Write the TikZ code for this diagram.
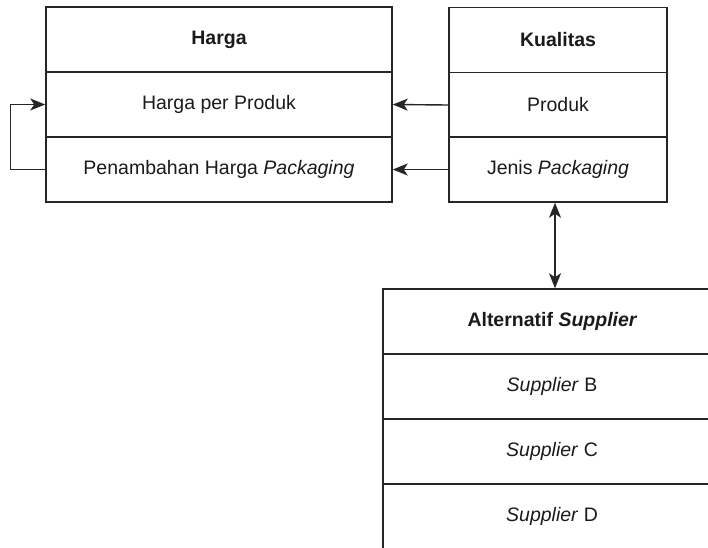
\documentclass[tikz,border=0pt]{standalone}
\usepackage{fontspec}
\setmainfont{Liberation Sans}
\usetikzlibrary{arrows.meta}
\definecolor{linec}{HTML}{262626}
\definecolor{textc}{HTML}{1A1A1A}
\begin{document}
\begin{tikzpicture}[x=1pt,y=-1pt,
  cell/.style={rectangle, draw=linec, line width=1.5pt, inner sep=0pt,
    minimum height=65pt, text=textc, font=\fontsize{19.5}{23}\selectfont},
  hcell/.style={cell, minimum width=346pt},
  kcell/.style={cell, minimum width=218pt},
  acell/.style={cell, minimum width=338pt},
  tip/.style={Stealth[length=15pt,width=12pt,inset=4pt]},
  arr/.style={draw=linec, line width=1.4pt, -{Stealth[length=15pt,width=12pt,inset=4pt]}},
  darr/.style={draw=linec, line width=1.4pt, {Stealth[length=15pt,width=12pt,inset=4pt]}-{Stealth[length=15pt,width=12pt,inset=4pt]}}]
\useasboundingbox (0,0) rectangle (708,547);
\clip (0,0) rectangle (708,547);
% Harga
\node[hcell] (hhead) at (219,39.5) {\bfseries Harga};
\node[hcell] (hprod) at (219,104.5) {Harga per Produk};
\node[hcell] (hpack) at (219,169.5) {Penambahan Harga \itshape Packaging};
% Kualitas
\node[kcell] (khead) at (558,40) {\bfseries Kualitas};
\node[kcell] (kprod) at (558,105) {Produk};
\node[kcell] (kpack) at (558,169.5) {Jenis \itshape Packaging};
% Alternatif Supplier
\node[acell] (ahead) at (552,321.5) {\bfseries Alternatif \itshape Supplier};
\node[acell] (asb) at (552,386.5) {\itshape Supplier\/\upshape\ B};
\node[acell] (asc) at (552,451.5) {\itshape Supplier\/\upshape\ C};
\node[acell] (asd) at (552,516.5) {\itshape Supplier\/\upshape\ D};
% connectors
\draw[arr] (kprod.west) -- (hprod.east);
\draw[arr] (kpack.west) -- (hpack.east);
\draw[arr] (hpack.west) -- ++(-35,0) |- (hprod.west);
\coordinate (dtop) at ([xshift=-3pt]kpack.south);
\draw[darr] (dtop) -- (dtop |- ahead.north);
\end{tikzpicture}
\end{document}
